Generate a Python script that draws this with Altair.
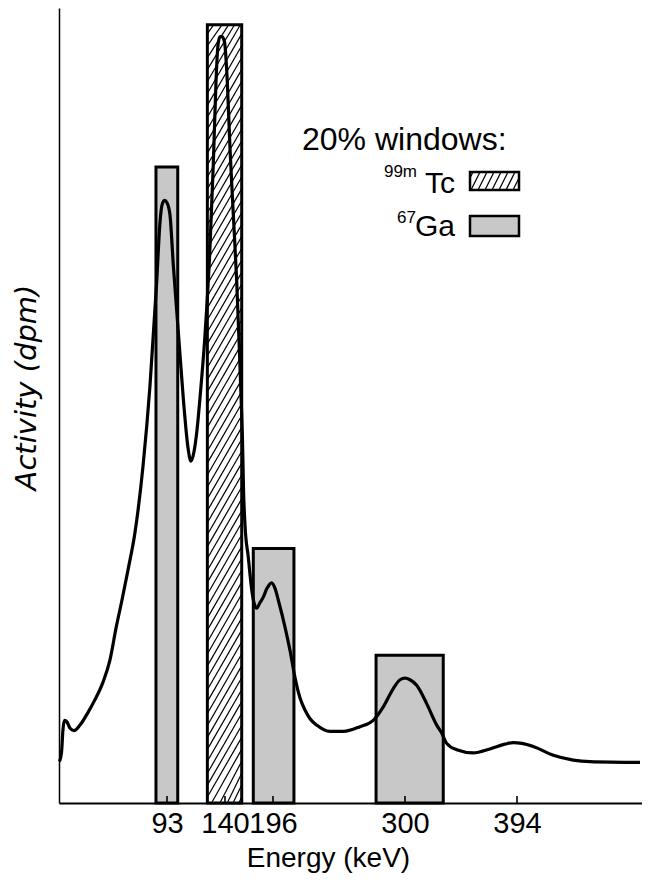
import altair as alt
import pandas as pd

# ---- data ----
# energy spectrum (keV) and activity (arbitrary units, 0-100 = full plot height)
energy = [0.4, 2.2, 3.4, 4.7, 6.9, 9.5, 12.9, 18.1, 25.0, 31.0, 37.9, 43.9, 49.1, 54.2, 59.4,
          65.4, 72.3, 78.4, 84.1, 87.0, 88.7, 90.9, 93.0, 95.4, 98.1, 102.2, 106.2, 110.0, 112.4,
          114.9, 117.3, 119.7, 123.8, 127.8, 130.5, 132.7, 134.3, 135.9, 137.6, 139.6, 142.7,
          145.8, 149.7, 153.7, 156.7, 159.5, 160.4, 161.6, 163.3, 167.2, 171.2, 173.8, 177.0,
          180.8, 184.7, 189.0, 194.5, 197.6, 200.2, 205.5, 209.4, 213.3, 217.3, 221.2, 225.2,
          230.4, 240.9, 251.4, 264.5, 275.0, 282.9, 290.8, 296.1, 300.0, 304.2, 309.8, 318.2,
          326.6, 330.8, 335.0, 343.4, 357.3, 371.3, 383.9, 390.9, 398.2, 407.8, 424.8, 441.7,
          455.9, 498.3]
activity = [5.2, 6.4, 9.2, 10.4, 10.2, 9.4, 9.1, 9.8, 11.4, 13.0, 15.2, 18.0, 22.0, 25.5, 29.3,
            34.0, 42.3, 52.6, 65.5, 73.1, 75.2, 75.8, 75.5, 74.0, 67.7, 59.2, 50.9, 44.7, 43.0,
            44.2, 46.9, 50.9, 58.9, 69.8, 80.3, 90.7, 95.3, 96.4, 96.4, 95.7, 90.7,
            82.4, 74.0, 65.5, 57.2, 48.8, 45.7, 39.4, 35.0, 30.9, 26.8, 25.2, 24.5,
            25.2, 25.9, 27.0, 27.7, 27.0, 25.5, 22.1, 19.2, 15.8, 13.2, 11.7, 10.6,
            9.8, 9.0, 9.0, 9.6, 10.4, 12.1, 14.4, 15.5, 15.7, 15.5, 14.8, 12.5,
            9.8, 8.8, 7.5, 6.7, 6.3, 6.8, 7.4, 7.6, 7.5, 7.1, 6.0, 5.4,
            5.2, 5.1]

# 20% energy windows
win_nuclide = ["Ga", "Tc", "Ga", "Ga"]
win_start = [83.5, 125.7, 173.0, 277.2]
win_end = [101.7, 159.5, 212.5, 332.1]
win_top = [80.0, 97.9, 32.0, 18.6]

tick_values = [93, 140, 196, 300, 394]

# ---- layout / style ----
W, H = 583, 795
FONT = "Liberation Sans"
STIPPLE = "#c8c8c8"

curve_df = pd.DataFrame({"energy": energy, "activity": activity})
win_df = pd.DataFrame({"nuclide": win_nuclide, "start": win_start, "end": win_end,
                       "top": win_top, "base": [0] * len(win_start)})

# diagonal hatching of the Tc window (derived from the window table)
RISE, STEP = 7.5, 1.5
hatch_rows = []
for n, s, e, t in zip(win_nuclide, win_start, win_end, win_top):
    if n != "Tc":
        continue
    b = -RISE + STEP / 2
    while b < t:
        xa, ya, xb, yb = s, b, e, b + RISE
        if ya < 0:
            xa = s + (-b / RISE) * (e - s)
            ya = 0.0
        if yb > t:
            xb = s + ((t - b) / RISE) * (e - s)
            yb = t
        if xb > xa:
            hatch_rows.append({"x": xa, "y": ya, "x2": xb, "y2": yb})
        b += STEP
hatch_df = pd.DataFrame(hatch_rows)

xscale = alt.Scale(domain=[0, 93, 140, 196, 300, 394, 500],
                   range=[0, 108, 166, 214, 346, 458, 583], nice=False, zero=False)
yscale = alt.Scale(domain=[0, 100], nice=False, zero=True)

x_axis = alt.Axis(values=tick_values, title="Energy (keV)", ticks=False, grid=False,
                  labelFontSize=29, labelFont=FONT, labelColor="black", labelPadding=6,
                  labelOverlap=False, labelFlush=False, domainColor="black", domainWidth=2.2,
                  titleFont=FONT, titleFontSize=28, titleFontWeight="normal", titleColor="black",
                  titleX=269, titleY=63, titleBaseline="alphabetic")
y_axis = alt.Axis(title="Activity (dpm)", labels=False, ticks=False, grid=False,
                  domainColor="black", domainWidth=1.5, titleFont="DejaVu Sans",
                  titleFontSize=29, titleFontStyle="italic", titleFontWeight="normal",
                  titleColor="black", titlePadding=18, titleY=379)


def xenc(field):
    return alt.X(field, scale=xscale, axis=x_axis, title="Energy (keV)")


def yenc(field):
    return alt.Y(field, scale=yscale, axis=y_axis, title="Activity (dpm)")


bars_fill = alt.Chart(win_df).mark_rect(stroke=None).encode(
    x=xenc("start:Q"), x2="end:Q",
    y=yenc("base:Q"), y2="top:Q",
    fill=alt.Fill("nuclide:N", scale=alt.Scale(domain=["Ga", "Tc"], range=[STIPPLE, "white"]),
                  legend=None),
)

hatch = alt.Chart(hatch_df).mark_rule(color="black", strokeWidth=1.2).encode(
    x=xenc("x:Q"), x2="x2:Q",
    y=yenc("y:Q"), y2="y2:Q",
)

bars_outline = alt.Chart(win_df).mark_rect(fillOpacity=0, stroke="black", strokeWidth=3).encode(
    x=xenc("start:Q"), x2="end:Q",
    y=yenc("base:Q"), y2="top:Q",
)

curve = alt.Chart(curve_df).mark_line(color="black", strokeWidth=3.2,
                                      interpolate="monotone").encode(
    x=xenc("energy:Q"),
    y=yenc("activity:Q"),
)

ticks = alt.Chart(pd.DataFrame({"t": tick_values})).mark_rule(
    color="black", strokeWidth=1.6).encode(
    x=xenc("t:Q"),
    y=alt.value(H), y2=alt.value(H - 7),
)

# ---- in-plot legend ----
def label(text, x, y, size, align="left"):
    return alt.Chart(pd.DataFrame({"t": [text]})).mark_text(
        font=FONT, fontSize=size, align=align, baseline="alphabetic", color="black"
    ).encode(text="t:N", x=alt.value(x), y=alt.value(y))


leg_title = label("20% windows:", 243, 142, 32)
leg_tc_sup = label("99m", 358, 169, 17, "right")
leg_tc = label("Tc", 396, 185, 30, "right")
leg_ga_sup = label("67", 357, 215, 17, "right")
leg_ga = label("Ga", 396, 228, 30, "right")

sw_x0, sw_x1 = 411, 460
swatch_df = pd.DataFrame({"nuclide": ["Tc", "Ga"], "x": [sw_x0, sw_x0], "x2": [sw_x1, sw_x1],
                          "y": [164, 208], "y2": [182, 228]})
swatch_fill = alt.Chart(swatch_df).mark_rect(stroke=None).encode(
    x=alt.X("x:Q", scale=None, axis=None), x2="x2:Q",
    y=alt.Y("y:Q", scale=None, axis=None), y2="y2:Q",
    fill=alt.Fill("nuclide:N", scale=alt.Scale(domain=["Ga", "Tc"], range=[STIPPLE, "white"]),
                  legend=None),
)
# hatching inside the Tc swatch
sw_top, sw_bot = 164, 182
dx_line = 9
rows = []
xs = sw_x0 - dx_line + 3
while xs < sw_x1:
    xa, ya, xb, yb = xs, sw_bot, xs + dx_line, sw_top
    if xa < sw_x0:
        f = (sw_x0 - xa) / dx_line
        ya = sw_bot - f * (sw_bot - sw_top)
        xa = sw_x0
    if xb > sw_x1:
        f = (sw_x1 - xs) / dx_line
        yb = sw_bot - f * (sw_bot - sw_top)
        xb = sw_x1
    rows.append({"x": xa, "y": ya, "x2": xb, "y2": yb})
    xs += 7
sw_hatch = alt.Chart(pd.DataFrame(rows)).mark_rule(color="black", strokeWidth=1.3).encode(
    x=alt.X("x:Q", scale=None, axis=None), x2="x2:Q",
    y=alt.Y("y:Q", scale=None, axis=None), y2="y2:Q",
)
swatch_outline = alt.Chart(swatch_df).mark_rect(fillOpacity=0, stroke="black",
                                                strokeWidth=2.5).encode(
    x=alt.X("x:Q", scale=None, axis=None), x2="x2:Q",
    y=alt.Y("y:Q", scale=None, axis=None), y2="y2:Q",
)

chart = alt.layer(
    bars_fill, hatch, bars_outline, curve, ticks,
    leg_title, leg_tc_sup, leg_tc, leg_ga_sup, leg_ga,
    swatch_fill, sw_hatch, swatch_outline,
).properties(
    width=W, height=H,
    autosize=alt.AutoSizeParams(type="none"),
    padding={"left": 51, "top": 0, "right": 0, "bottom": 70},
    background="white",
).configure_view(stroke=None)

chart.save("out.html", embed_options={"renderer": "svg", "actions": False})
